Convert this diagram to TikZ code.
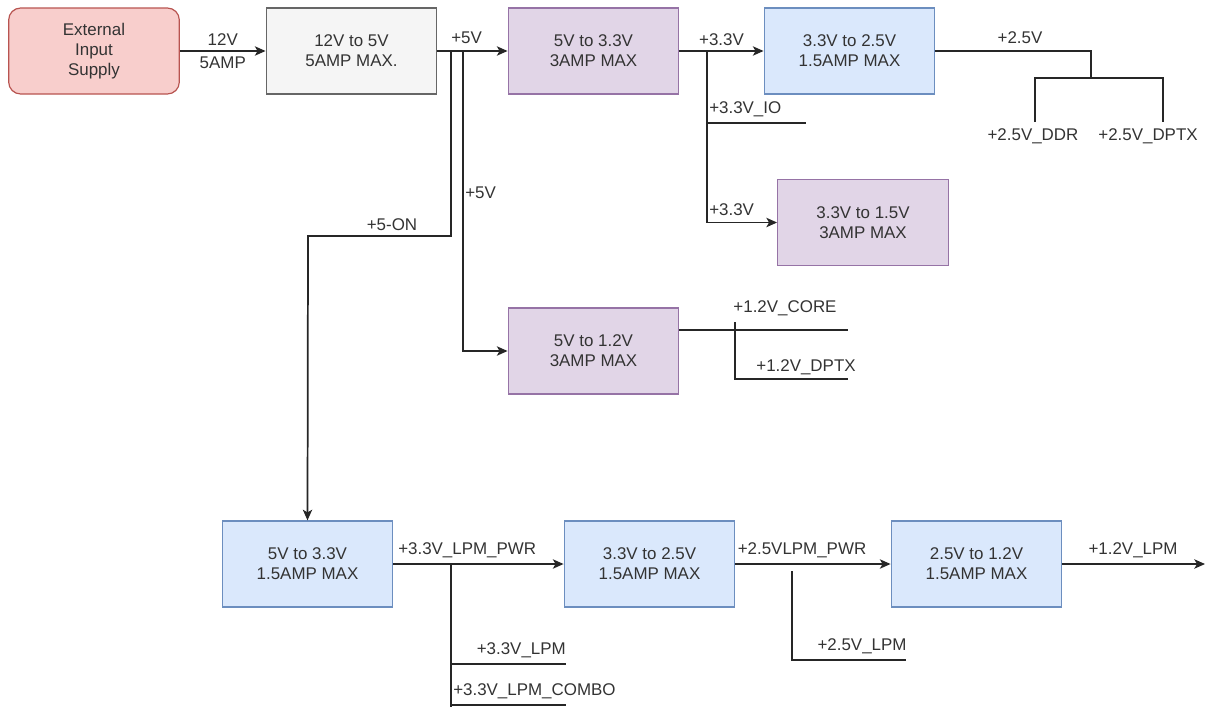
\documentclass[tikz,border=0pt]{standalone}
\usepackage{fontspec}
\setmainfont{Liberation Sans}
\usetikzlibrary{arrows.meta}
\definecolor{pinkfill}{HTML}{F8CECC}
\definecolor{pinkline}{HTML}{B85450}
\definecolor{greyfill}{HTML}{F5F5F5}
\definecolor{greyline}{HTML}{666666}
\definecolor{purpfill}{HTML}{E1D5E7}
\definecolor{purpline}{HTML}{9673A6}
\definecolor{bluefill}{HTML}{DAE8FC}
\definecolor{blueline}{HTML}{6C8EBF}
\definecolor{inktext}{HTML}{333333}

\begin{document}
\begin{tikzpicture}[x=0.75pt,y=-0.75pt,
    font=\fontsize{12.7}{15}\selectfont,
    box/.style={draw,line width=0.9pt,minimum width=128pt,minimum height=64.5pt,
      align=center,text=inktext,inner sep=0pt},
    extbox/.style={box,fill=pinkfill,draw=pinkline,rounded corners=9pt},
    greybox/.style={box,fill=greyfill,draw=greyline},
    purpbox/.style={box,fill=purpfill,draw=purpline},
    bluebox/.style={box,fill=bluefill,draw=blueline},
    arr/.style={draw=black!85,line width=1.3pt,-{Stealth[length=8pt,width=7pt,inset=2pt]}},
    wire/.style={draw=black!85,line width=1pt},
    lbl/.style={text=inktext,inner sep=1.5pt}]
    \useasboundingbox (0,0) rectangle (1216,707);

    % top row
    \node[extbox]  (ext)    at (94,51)    {External\\Input\\Supply};
    \node[greybox] (buck12) at (351.5,51) {12V to 5V\\5AMP MAX.};
    \node[purpbox] (buck33) at (593.5,51) {5V to 3.3V\\3AMP MAX};
    \node[bluebox] (buck25) at (849.5,51) {3.3V to 2.5V\\1.5AMP MAX};
    \node[purpbox] (buck15) at (863,222.5) {3.3V to 1.5V\\3AMP MAX};
    \node[purpbox] (buck12v) at (593.5,351) {5V to 1.2V\\3AMP MAX};

    % bottom row
    \node[bluebox] (lpm33) at (307.5,564) {5V to 3.3V\\1.5AMP MAX};
    \node[bluebox] (lpm25) at (649.5,564) {3.3V to 2.5V\\1.5AMP MAX};
    \node[bluebox] (lpm12) at (976.5,564) {2.5V to 1.2V\\1.5AMP MAX};

    \coordinate (j5on) at (451,51);
    \coordinate (j5v)  at (463,51);
    \coordinate (j33)  at (707,51);
    \coordinate (j25)  at (1091,51);
    \coordinate (jlpm) at (451,564);
    \coordinate (out12) at (1205,564);

    % 12V input
    \draw[arr] (ext) -- node[lbl,above=2pt]{12V} node[lbl,below=2pt]{5AMP} (buck12);
    % +5V rail
    \draw[arr] (buck12) -- (buck33);
    \node[lbl,anchor=south west] (l5v) at (449,46) {+5V};
    \draw[arr] (j5on) |- (308,236) -- (lpm33.north);
    \node[lbl,anchor=south] (l5on) at (392,233) {+5-ON};
    \draw[arr] (j5v) |- (buck12v.west);
    \node[lbl,anchor=west] (l5v2) at (463,193) {+5V};

    % +3.3V rail
    \draw[arr] (buck33) -- node[lbl,above=2pt]{+3.3V} (buck25);
    \draw[wire] (j33) |- (806,123);
    \node[lbl,anchor=south west] (l33io) at (707,119) {+3.3V\_IO};
    \draw[arr] (j33) |- (buck15.west);
    \node[lbl,anchor=south west] (l33b) at (707,218) {+3.3V};

    % +2.5V rail
    \draw[wire] (buck25) -- (j25) -- (1091,78);
    \node[lbl,anchor=south] (l25) at (1020,46) {+2.5V};
    \draw[wire] (1035,122) -- (1035,78) -- (1163,78) -- (1163,122);
    \node[lbl,anchor=north] (lddr)  at (1033,126) {+2.5V\_DDR};
    \node[lbl,anchor=north] (ldptx) at (1148,126) {+2.5V\_DPTX};

    % +1.2V rail
    \draw[wire] (buck12v.east |- 0,330) -- (848,330);
    \draw[wire] (735,322) |- (848,379);
    \node[lbl,anchor=south] (lcore)  at (785,318) {+1.2V\_CORE};
    \node[lbl,anchor=south] (l12dp)  at (806,377) {+1.2V\_DPTX};

    % LPM chain
    \draw[arr] (lpm33) -- (lpm25);
    \node[lbl,anchor=south west] (llpm33) at (396,560) {+3.3V\_LPM\_PWR};
    \draw[wire] (jlpm) -- (451,707);
    \draw[wire] (451,664) -- (566,664);
    \draw[wire] (451,705) -- (566,705);
    \node[lbl,anchor=south east] (l33lpm) at (568,660) {+3.3V\_LPM};
    \node[lbl,anchor=south west] (l33cmb) at (451,701) {+3.3V\_LPM\_COMBO};

    \draw[arr] (lpm25) -- (lpm12);
    \node[lbl,anchor=south] (l25pwr) at (802,560) {+2.5VLPM\_PWR};
    \draw[wire] (792,571) |- (906,660);
    \node[lbl,anchor=south] (l25lpm) at (862,656) {+2.5V\_LPM};

    \draw[arr] (lpm12) -- (out12);
    \node[lbl,anchor=south] (l12lpm) at (1133,560) {+1.2V\_LPM};
\end{tikzpicture}
\end{document}
